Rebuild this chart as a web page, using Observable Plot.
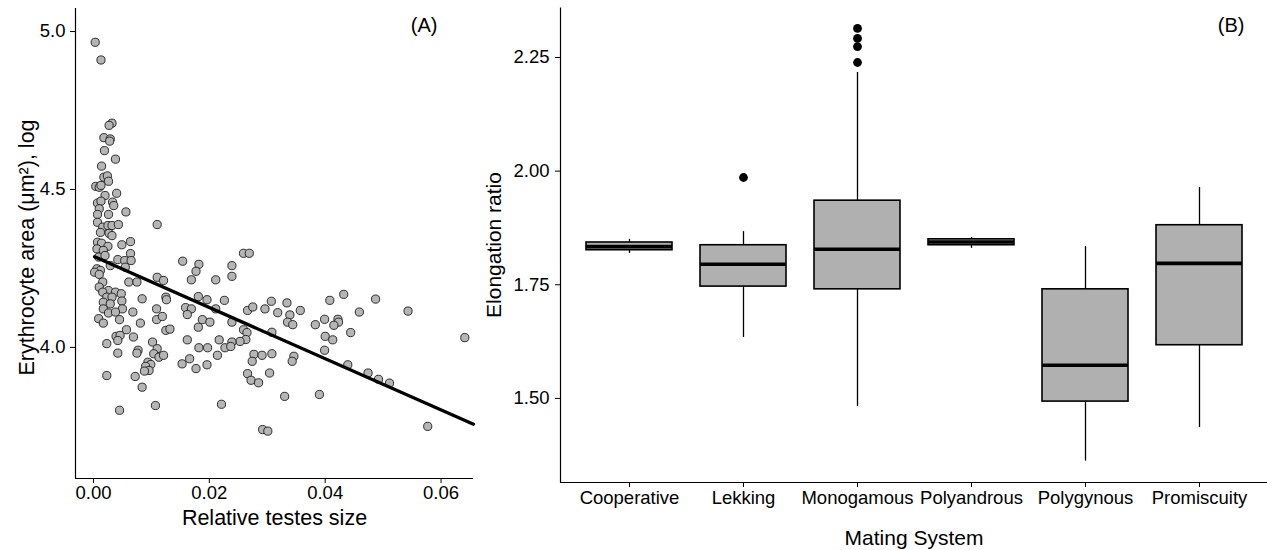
<!DOCTYPE html>
<html>
<head>
<meta charset="utf-8">
<script src="https://cdn.jsdelivr.net/npm/d3@7"></script>
<script src="https://cdn.jsdelivr.net/npm/@observablehq/plot@0.6"></script>
<style>
  html, body { margin: 0; padding: 0; background: white; }
  #wrap { display: flex; width: 1267px; height: 550px; }
  #wrap svg { display: block; }
</style>
</head>
<body>
<div id="wrap"></div>
<script>
// ---------- Panel A data ----------
const testesSize = [
  0.0003,0.0013,0.0032,0.0027,0.0018,0.0029,0.0028,0.0019,0.0038,0.0014,0.0018,0.0024,0.0026,0.0004,0.0010,0.0013,0.0020,0.0040,0.0033,0.0007,0.0013,0.0035,0.0056,0.0010,0.0007,0.0026,0.0007,0.0016,0.0025,0.0032,0.0043,0.0012,0.0027,0.0032,0.0007,0.0064,0.0110,
  0.0014,0.0025,0.0049,0.0006,0.0017,0.0064,0.0009,0.0020,0.0042,0.0054,0.0065,0.0029,0.0055,0.0006,0.0012,0.0002,0.0010,0.0016,0.0061,0.0075,0.0010,0.0026,0.0038,0.0048,0.0016,0.0023,0.0032,0.0049,0.0084,0.0017,0.0029,0.0017,0.0050,0.0026,0.0038,0.0068,0.0009,0.0017,0.0045,0.0081,0.0057,0.0039,0.0046,0.0042,0.0069,0.0023,0.0042,0.0077,0.0075,0.0023,0.0072,0.0084,0.0045,0.0094,0.0099,0.0090,0.0096,0.0088,
  0.0259,0.0269,0.0154,0.0182,0.0177,0.0239,0.0239,0.0110,0.0121,0.0169,0.0211,0.0125,0.0126,0.0181,0.0196,0.0226,0.0109,0.0159,0.0169,0.0162,0.0211,0.0266,0.0275,0.0296,0.0307,0.0334,0.0357,0.0318,0.0339,0.0109,0.0119,0.0188,0.0201,0.0181,0.0239,0.0335,0.0344,0.0125,0.0132,0.0259,0.0265,0.0308,0.0102,0.0162,0.0217,0.0263,0.0253,0.0239,0.0110,0.0182,0.0197,0.0227,0.0237,0.0104,0.0113,0.0121,0.0214,0.0277,0.0291,0.0308,0.0346,0.0166,0.0153,0.0177,0.0196,0.0274,0.0343,0.0266,0.0304,0.0272,0.0285,0.0330,0.0107,0.0221,0.0292,0.0301,
  0.0408,0.0432,0.0487,0.0543,0.0459,0.0383,0.0399,0.0422,0.0423,0.0415,0.0444,0.0400,0.0413,0.0641,0.0399,0.0439,0.0474,0.0492,0.0511,0.0390,0.0577
];
const erythrocyteArea = [
  4.966,4.910,4.710,4.703,4.664,4.660,4.653,4.623,4.596,4.574,4.539,4.543,4.526,4.510,4.507,4.513,4.481,4.488,4.460,4.457,4.463,4.449,4.429,4.439,4.421,4.421,4.396,4.381,4.386,4.386,4.389,4.364,4.361,4.354,4.333,4.335,4.389,
  4.330,4.320,4.325,4.312,4.307,4.297,4.286,4.291,4.278,4.275,4.275,4.259,4.254,4.249,4.244,4.238,4.231,4.207,4.207,4.207,4.191,4.180,4.175,4.170,4.175,4.159,4.159,4.147,4.154,4.143,4.138,4.122,4.122,4.109,4.112,4.112,4.091,4.077,4.088,4.077,4.056,4.035,4.038,4.022,4.033,4.012,3.982,3.991,3.982,3.911,3.908,3.874,3.801,3.953,3.946,3.940,3.927,3.925,
  4.298,4.298,4.273,4.263,4.241,4.259,4.225,4.222,4.212,4.214,4.214,4.159,4.151,4.161,4.151,4.149,4.122,4.126,4.122,4.104,4.122,4.117,4.128,4.122,4.146,4.141,4.117,4.110,4.103,4.088,4.098,4.088,4.080,4.064,4.080,4.080,4.072,4.054,4.058,4.056,4.047,4.048,4.017,4.024,4.024,4.025,4.019,4.017,3.996,3.999,3.999,3.999,4.003,3.980,3.969,3.975,3.975,3.978,3.975,3.980,3.972,3.964,3.948,3.933,3.945,3.956,3.956,3.917,3.919,3.896,3.888,3.845,3.816,3.820,3.740,3.735,
  4.149,4.168,4.153,4.115,4.112,4.072,4.089,4.089,4.080,4.070,4.047,4.035,4.024,4.031,3.991,3.945,3.919,3.899,3.887,3.851,3.750
];
const fitX = [0.0002, 0.0656];
const fitY = [4.287, 3.757];
const xTicksA = [0, 0.02, 0.04, 0.06];
const yTicksA = [4.0, 4.5, 5.0];
const xDomainA = [-0.0031, 0.0656];
const yDomainA = [3.585, 5.073];

// ---------- Panel B data ----------
const categories = ["Cooperative", "Lekking", "Monogamous", "Polyandrous", "Polygynous", "Promiscuity"];
const whiskerLow  = [1.819, 1.634, 1.482, 1.830, 1.362, 1.436];
const q1          = [1.826, 1.746, 1.740, 1.837, 1.493, 1.617];
const median      = [1.834, 1.795, 1.828, 1.844, 1.573, 1.797];
const q3          = [1.843, 1.837, 1.935, 1.850, 1.740, 1.881];
const whiskerHigh = [1.850, 1.867, 2.217, 1.854, 1.834, 1.964];
const outlierCategory = ["Lekking", "Monogamous", "Monogamous", "Monogamous", "Monogamous"];
const outlierValue    = [1.986, 2.314, 2.292, 2.274, 2.239];
const yTicksB = [1.50, 1.75, 2.00, 2.25];
const yDomainB = [1.315, 2.36];

// ---------- build ----------
const FONT = "'Liberation Sans', Arial, Helvetica, sans-serif";
const TICK_FS = 18.5;
const baseStyle = {fontFamily: FONT, fontSize: TICK_FS + "px", color: "black", background: "white", overflow: "visible"};

const points = testesSize.map((x, i) => ({x, y: erythrocyteArea[i]}));
const fit = fitX.map((x, i) => ({x, y: fitY[i]}));

const A = {width: 480, height: 550, left: 75, right: 7, top: 8, bottom: 72};
const plotA = Plot.plot({
  width: A.width, height: A.height,
  marginLeft: A.left, marginRight: A.right, marginTop: A.top, marginBottom: A.bottom,
  style: baseStyle,
  x: {domain: xDomainA},
  y: {domain: yDomainA},
  marks: [
    Plot.axisX({ticks: xTicksA, tickFormat: d3.format(".2f"), tickSize: 5, tickPadding: 2, label: null, fontSize: TICK_FS}),
    Plot.axisY({ticks: yTicksA, tickFormat: d3.format(".1f"), tickSize: 5, tickPadding: 5, label: null, fontSize: TICK_FS}),
    Plot.ruleX([xDomainA[0]], {stroke: "black", strokeWidth: 1.2}),
    Plot.ruleY([yDomainA[0]], {stroke: "black", strokeWidth: 1.2}),
    Plot.dot(points, {x: "x", y: "y", r: 4.1, fill: "#b5b5b5", stroke: "#1a1a1a", strokeWidth: 0.9}),
    Plot.line(fit, {x: "x", y: "y", stroke: "black", strokeWidth: 3.3}),
    Plot.text(["Relative testes size"], {frameAnchor: "bottom", textAnchor: "middle", lineAnchor: "middle", dy: 40, fontSize: 21.5}),
    Plot.text(["Erythrocyte area (μm²), log"], {frameAnchor: "left", textAnchor: "middle", lineAnchor: "middle", rotate: -90, dx: -48, dy: 4, fontSize: 21.5}),
    Plot.text(["(A)"], {frameAnchor: "top-right", textAnchor: "end", lineAnchor: "top", dx: -36, dy: 9, fontSize: 20})
  ]
});

const boxes = categories.map((c, i) => ({c, lo: whiskerLow[i], q1: q1[i], med: median[i], q3: q3[i], hi: whiskerHigh[i]}));
const outliers = outlierCategory.map((c, i) => ({c, v: outlierValue[i]}));

const B = {width: 787, height: 550, left: 80, right: 0, top: 7, bottom: 68};
const fw = B.width - B.left - B.right, fh = B.height - B.top - B.bottom;
const plotB = Plot.plot({
  width: B.width, height: B.height,
  marginLeft: B.left, marginRight: B.right, marginTop: B.top, marginBottom: B.bottom,
  style: baseStyle,
  x: {type: "band", domain: categories, paddingInner: 0.25, paddingOuter: 0.21},
  y: {domain: yDomainB},
  marks: [
    Plot.axisX({tickSize: 5, tickPadding: 3, label: null, fontSize: TICK_FS}),
    Plot.axisY({ticks: yTicksB, tickFormat: d3.format(".2f"), tickSize: 5, tickPadding: 6, label: null, fontSize: TICK_FS}),
    // left + bottom axis lines (classic theme): only the bottom and left edges of the frame are stroked
    Plot.frame({stroke: "black", strokeWidth: 1.2, strokeDasharray: `0 ${fw + fh} ${fw + fh}`}),
    Plot.ruleX(boxes, {x: "c", y1: "lo", y2: "q1", stroke: "black", strokeWidth: 1.3}),
    Plot.ruleX(boxes, {x: "c", y1: "q3", y2: "hi", stroke: "black", strokeWidth: 1.3}),
    Plot.barY(boxes, {x: "c", y1: "q1", y2: "q3", fill: "#b0b0b0", stroke: "black", strokeWidth: 1.6}),
    Plot.tickY(boxes, {x: "c", y: "med", stroke: "black", strokeWidth: 3.6}),
    Plot.dot(outliers, {x: "c", y: "v", r: 4.4, fill: "black", stroke: "none"}),
    Plot.text(["Mating System"], {frameAnchor: "bottom", textAnchor: "middle", lineAnchor: "middle", dy: 56, fontSize: 21}),
    Plot.text(["Elongation ratio"], {frameAnchor: "left", textAnchor: "middle", lineAnchor: "middle", rotate: -90, dx: -66, fontSize: 21}),
    Plot.text(["(B)"], {frameAnchor: "top-right", textAnchor: "end", lineAnchor: "top", dx: -23, dy: 10, fontSize: 20})
  ]
});

const wrap = document.getElementById("wrap");
wrap.appendChild(plotA);
wrap.appendChild(plotB);
</script>
</body>
</html>
